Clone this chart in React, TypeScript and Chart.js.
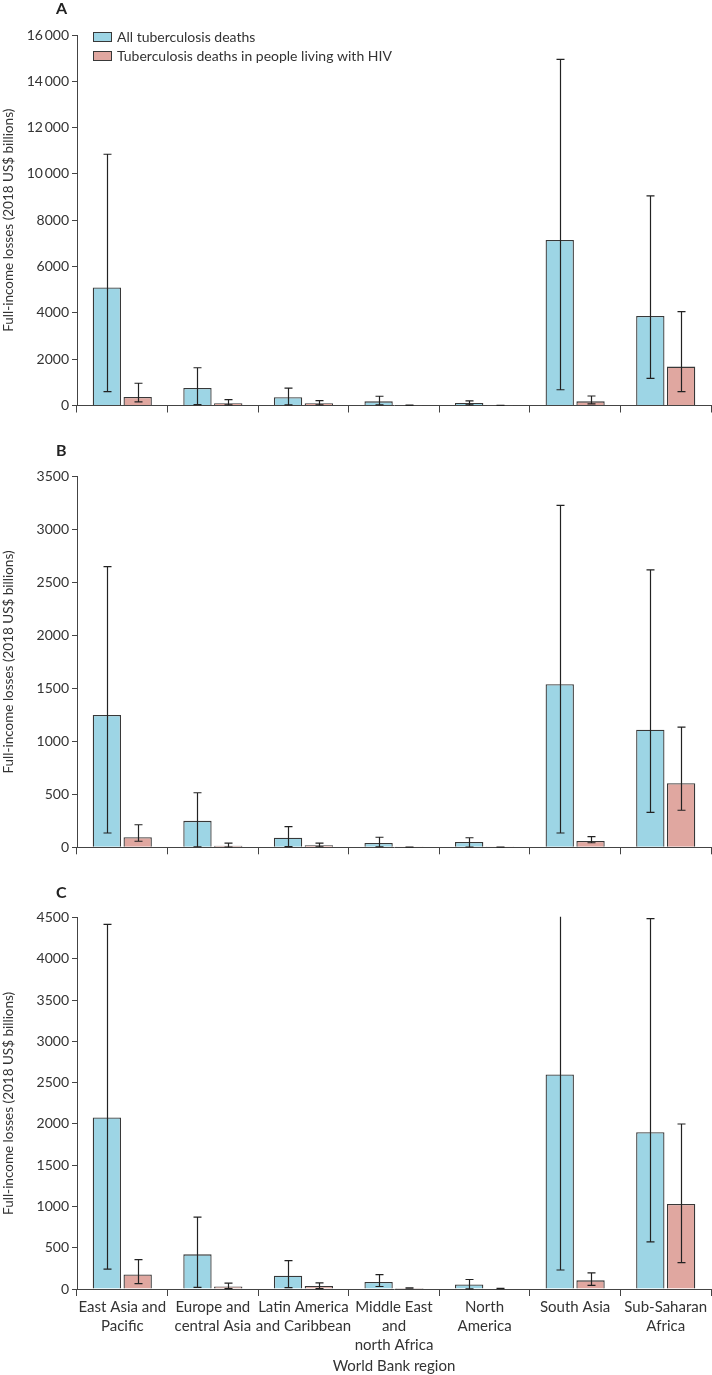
import React, { useEffect, useRef } from "react";
import { Chart, registerables } from "chart.js";
Chart.register(...registerables);

const REGIONS: string[][] = [
  ["East Asia and", "Pacific"],
  ["Europe and", "central Asia"],
  ["Latin America", "and Caribbean"],
  ["Middle East", "and", "north Africa"],
  ["North", "America"],
  ["South Asia"],
  ["Sub-Saharan", "Africa"],
];
const SERIES_LABELS = ["All tuberculosis deaths", "Tuberculosis deaths in people living with HIV"];
const X_TITLE = "World Bank region";
const Y_TITLE = "Full-income losses (2018 US$ billions)";

// Panel A
const A_ALL = [5100, 760, 360, 180, 110, 7150, 3870];
const A_ALL_LO = [600, 40, 30, 30, 30, 680, 1170];
const A_ALL_HI = [10850, 1630, 750, 400, 200, 14950, 9050];
const A_HIV = [370, 100, 100, 10, 8, 180, 1680];
const A_HIV_LO = [160, 30, 30, 8, 6, 70, 600];
const A_HIV_HI = [960, 250, 210, 12, 10, 410, 4050];
const A_TICKS = { max: 16000, step: 2000 };

// Panel B
const B_ALL = [1250, 250, 90, 40, 50, 1540, 1110];
const B_ALL_LO = [135, 5, 6, 5, 3, 135, 330];
const B_ALL_HI = [2650, 515, 195, 95, 90, 3230, 2620];
const B_HIV = [95, 15, 20, 2, 2, 60, 605];
const B_HIV_LO = [57, 3, 5, 1, 1, 43, 350];
const B_HIV_HI = [213, 40, 40, 3, 3, 100, 1135];
const B_TICKS = { max: 3500, step: 500 };

// Panel C
const C_ALL = [2080, 420, 160, 85, 55, 2600, 1900];
const C_ALL_LO = [240, 20, 17, 30, 2, 230, 570];
const C_ALL_HI = [4420, 870, 345, 175, 115, 4800, 4490];
const C_HIV = [175, 30, 35, 12, 5, 105, 1030];
const C_HIV_LO = [65, 5, 5, 9, 3, 45, 320];
const C_HIV_HI = [355, 70, 75, 15, 7, 195, 2000];
const C_TICKS = { max: 4500, step: 500 };

const BLUE = "#9dd5e5";
const RED = "#e0a7a0";
const EDGE = "#383838";
const INK = "#333333";
const FONT = "Lato, 'Liberation Sans', sans-serif";

function fmt(v: number): string {
  if (v >= 10000) {
    const s = String(v);
    return s.slice(0, s.length - 3) + "\u2009" + s.slice(s.length - 3);
  }
  return String(v);
}

function errorBarPlugin(lows: number[][], highs: number[][]) {
  return {
    id: "errbars",
    afterDatasetsDraw(chart: any) {
      const { ctx, chartArea } = chart;
      const y = chart.scales.y;
      ctx.save();
      ctx.beginPath();
      ctx.rect(chartArea.left, chartArea.top - 1, chartArea.right - chartArea.left, chartArea.bottom - chartArea.top + 2);
      ctx.clip();
      ctx.strokeStyle = "#222";
      ctx.lineWidth = 1.2;
      chart.data.datasets.forEach((_ds: any, i: number) => {
        const meta = chart.getDatasetMeta(i);
        meta.data.forEach((bar: any, j: number) => {
          const x = Math.round(bar.x) + 0.5;
          const yl = y.getPixelForValue(lows[i][j]);
          const yh = y.getPixelForValue(highs[i][j]);
          ctx.beginPath();
          ctx.moveTo(x, yl);
          ctx.lineTo(x, yh);
          ctx.moveTo(x - 4, yl);
          ctx.lineTo(x + 4, yl);
          ctx.moveTo(x - 4, yh);
          ctx.lineTo(x + 4, yh);
          ctx.stroke();
        });
      });
      ctx.restore();
    },
  };
}

const legendPlugin = {
  id: "customLegend",
  afterDraw(chart: any) {
    const { ctx, chartArea } = chart;
    const x0 = chartArea.left + 16;
    const y0 = chartArea.top - 3;
    chart.data.datasets.forEach((ds: any, i: number) => {
      const top = y0 + i * 19;
      ctx.save();
      ctx.fillStyle = ds.backgroundColor;
      ctx.fillRect(x0, top, 19, 10);
      ctx.strokeStyle = EDGE;
      ctx.lineWidth = 1;
      ctx.strokeRect(x0 + 0.5, top + 0.5, 18, 9);
      ctx.fillStyle = INK;
      ctx.font = "14px " + FONT;
      ctx.textBaseline = "middle";
      ctx.fillText(ds.label, x0 + 24, top + 5.5);
      ctx.restore();
    });
  },
};

type PanelSpec = {
  all: number[];
  allLo: number[];
  allHi: number[];
  hiv: number[];
  hivLo: number[];
  hivHi: number[];
  ticks: { max: number; step: number };
  padTop: number;
  padBottom: number;
  xHeight: number;
  showX: boolean;
  legend: boolean;
};

function makeChart(canvas: HTMLCanvasElement, p: PanelSpec) {
  const plugins: any[] = [errorBarPlugin([p.allLo, p.hivLo], [p.allHi, p.hivHi])];
  if (p.legend) plugins.push(legendPlugin);
  return new Chart(canvas, {
    type: "bar",
    data: {
      labels: REGIONS,
      datasets: [
        {
          label: SERIES_LABELS[0],
          data: p.all,
          backgroundColor: BLUE,
          borderColor: EDGE,
          borderWidth: 1.3,
          categoryPercentage: 0.68,
          barPercentage: 0.92,
        },
        {
          label: SERIES_LABELS[1],
          data: p.hiv,
          backgroundColor: RED,
          borderColor: EDGE,
          borderWidth: 1.3,
          categoryPercentage: 0.68,
          barPercentage: 0.92,
        },
      ],
    },
    options: {
      responsive: false,
      animation: false,
      devicePixelRatio: 1,
      layout: { padding: { top: p.padTop, bottom: p.padBottom, left: 0, right: 1 } },
      plugins: { legend: { display: false }, tooltip: { enabled: false } },
      scales: {
        x: {
          offset: true,
          grid: { offset: true, drawOnChartArea: false, drawTicks: true, tickLength: 7, color: "#444" },
          border: { color: "#444", width: 1 },
          ticks: {
            display: p.showX,
            autoSkip: false,
            maxRotation: 0,
            minRotation: 0,
            padding: 2,
            color: INK,
            font: { family: FONT, size: 15, lineHeight: 1.267 },
          },
          title: {
            display: p.showX,
            text: X_TITLE,
            color: INK,
            font: { family: FONT, size: 15 },
            padding: { top: 4, bottom: 0 },
          },
          afterFit: (scale: any) => {
            scale.height = p.xHeight;
          },
        },
        y: {
          min: 0,
          max: p.ticks.max,
          grid: { drawOnChartArea: false, drawTicks: true, tickLength: 5, color: "#444" },
          border: { color: "#444", width: 1 },
          ticks: {
            stepSize: p.ticks.step,
            padding: 3,
            color: INK,
            font: { family: FONT, size: 14 },
            callback: (v: any) => fmt(Number(v)),
          },
          title: {
            display: true,
            text: Y_TITLE,
            color: INK,
            font: { family: FONT, size: 13.5 },
            padding: { top: 1, bottom: 0 },
          },
          afterFit: (scale: any) => {
            scale.width = 77;
          },
        },
      },
    },
    plugins,
  } as any);
}

const letterStyle = (top: number): React.CSSProperties => ({
  position: "absolute",
  left: 56,
  top,
  font: "bold 16px " + FONT,
  lineHeight: "16px",
  color: "#222",
});

export default function App() {
  const refA = useRef<HTMLCanvasElement>(null);
  const refB = useRef<HTMLCanvasElement>(null);
  const refC = useRef<HTMLCanvasElement>(null);

  useEffect(() => {
    const charts: Chart[] = [];
    if (refA.current)
      charts.push(
        makeChart(refA.current, {
          all: A_ALL, allLo: A_ALL_LO, allHi: A_ALL_HI,
          hiv: A_HIV, hivLo: A_HIV_LO, hivHi: A_HIV_HI,
          ticks: A_TICKS, padTop: 35, padBottom: 14.5, xHeight: 20, showX: false, legend: true,
        })
      );
    if (refB.current)
      charts.push(
        makeChart(refB.current, {
          all: B_ALL, allLo: B_ALL_LO, allHi: B_ALL_HI,
          hiv: B_HIV, hivLo: B_HIV_LO, hivHi: B_HIV_HI,
          ticks: B_TICKS, padTop: 36.7, padBottom: 12.7, xHeight: 20, showX: false, legend: false,
        })
      );
    if (refC.current)
      charts.push(
        makeChart(refC.current, {
          all: C_ALL, allLo: C_ALL_LO, allHi: C_ALL_HI,
          hiv: C_HIV, hivLo: C_HIV_LO, hivHi: C_HIV_HI,
          ticks: C_TICKS, padTop: 37.7, padBottom: 0, xHeight: 86, showX: true, legend: false,
        })
      );
    return () => charts.forEach((c) => c.destroy());
  }, []);

  return (
    <div style={{ position: "absolute", left: 0, top: 0, width: 712, height: 1375, background: "#fff" }}>
      <canvas ref={refA} width={712} height={440} style={{ position: "absolute", left: 0, top: 0, display: "block" }} />
      <canvas ref={refB} width={712} height={440} style={{ position: "absolute", left: 0, top: 440, display: "block" }} />
      <canvas ref={refC} width={712} height={495} style={{ position: "absolute", left: 0, top: 880, display: "block" }} />
      <div style={letterStyle(0)}>A</div>
      <div style={letterStyle(442)}>B</div>
      <div style={letterStyle(884)}>C</div>
    </div>
  );
}
